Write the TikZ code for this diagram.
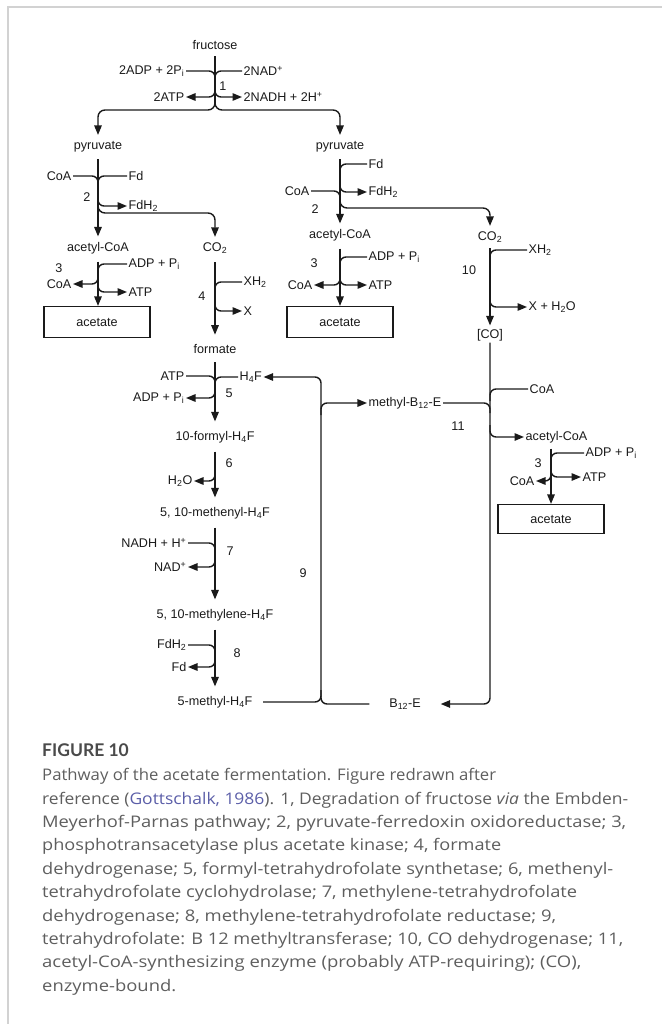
\documentclass[tikz,border=0pt]{standalone}
\usepackage{fontspec}
\usepackage{graphicx}
\setmainfont{Liberation Sans}
\newfontfamily\capfont{Open Sans}
\newfontfamily\capheadfont{Lato}
\usetikzlibrary{arrows.meta}

\definecolor{ink}{HTML}{1A1A1A}
\definecolor{framegray}{HTML}{D2D2D2}
\definecolor{captext}{HTML}{5E5E5E}
\definecolor{caphead}{HTML}{4A4A4A}
\definecolor{linkblue}{HTML}{5B5EA8}

% set one caption line to a given width (in pt) by horizontal scaling
\newsavebox\capbox
\newcommand\fitline[2]{\sbox\capbox{#2}%
  \pgfmathsetmacro\capratio{#1/\the\wd\capbox}%
  \scalebox{\capratio}[1]{\usebox\capbox}}

\begin{document}
\begin{tikzpicture}[x=1pt,y=-1pt,
  lbl/.style={font=\fontsize{12.6}{15}\selectfont, text=ink, inner sep=1.5pt},
  num/.style={lbl},
  rxn/.style={draw=ink, line width=1.4pt, rounded corners=6pt},
  arr/.style={rxn, -{Triangle[length=9.5pt,width=7.5pt]}},
  chain/.style={arr, shorten <=7pt, shorten >=8pt},
  boxn/.style={lbl, draw=ink, line width=1.2pt, minimum width=106pt, minimum height=31pt},
  captxt/.style={anchor=west, inner sep=0pt, text=captext, font=\capfont\fontsize{16}{20}\selectfont},
]
\useasboundingbox (0,0) rectangle (662,1024);

% frame of the figure panel
\draw[framegray, line width=2pt] (8,1024) -- (8,7) -- (662,7);

% ---------- step 1: fructose -> 2 pyruvate ----------
\node[lbl] (fru) at (215,45) {fructose};
\node[lbl,anchor=east] (adp1) at (186,71) {2ADP + 2P\textsubscript{i}};
\node[lbl,anchor=west] (nad1) at (242,71) {2NAD\textsuperscript{+}};
\node[lbl,anchor=east] (atp1) at (186,97) {2ATP};
\node[lbl,anchor=west] (nadh1) at (242,97) {2NADH + 2H\textsuperscript{+}};
\node[num] (n1) at (223,86) {1};
\node[lbl] (pyrL) at (98,147) {pyruvate};
\node[lbl] (pyrR) at (340,147) {pyruvate};

\draw[rxn, shorten <=5pt] (fru.south) -- (215,104);
\draw[arr] (adp1.east) -| (215,86) |- (atp1.east);
\draw[arr] (nad1.west) -| (215,86) |- (nadh1.west);
\draw[arr, shorten >=5pt, rounded corners=7pt] (215,100) |- (98,110) -- (pyrL.north);
\draw[arr, shorten >=5pt, rounded corners=7pt] (215,100) |- (340,110) -- (pyrR.north);

% ---------- left branch: pyruvate -> acetyl-CoA + CO2 ----------
\node[lbl] (acL) at (98,248) {acetyl-CoA};
\node[lbl] (co2L) at (215,248) {CO\textsubscript{2}};
\node[lbl,anchor=east] (coa2L) at (73,176) {CoA};
\node[lbl,anchor=west] (fd2L) at (127,176) {Fd};
\node[lbl,anchor=west] (fdh2L) at (127,206) {FdH\textsubscript{2}};
\node[num] at (87,197) {2};
\draw[arr, shorten <=5pt, shorten >=4pt] (pyrL) -- (acL);
\draw[rxn] (coa2L.east) -| (98,186);
\draw[rxn] (fd2L.west) -| (98,186);
\draw[arr] (98,190) |- (fdh2L.west);
\draw[arr, shorten >=4pt, rounded corners=7pt] (98,200) |- (215,213) -- (co2L.north);

% acetyl-CoA -> acetate (left)
\node[lbl,anchor=west] (adp3L) at (127,264) {ADP + P\textsubscript{i}};
\node[lbl,anchor=east] (coa3L) at (73,284) {CoA};
\node[lbl,anchor=west] (atp3L) at (127,292) {ATP};
\node[num] at (59,268) {3};
\node[boxn] (boxL) at (97,322) {acetate};
\draw[arr, shorten <=6pt] (acL.south) -- (acL.south |- boxL.north);
\draw[rxn] (adp3L.west) -| (98,274);
\draw[arr] (98,274) |- (coa3L.east);
\draw[arr] (98,279) |- (atp3L.west);

% CO2 -> formate
\node[lbl] (form) at (215,349) {formate};
\node[lbl,anchor=west] (xh4) at (242,282) {XH\textsubscript{2}};
\node[lbl,anchor=west] (x4) at (242,311) {X};
\node[num] at (202,296) {4};
\draw[chain] (co2L) -- (form);
\draw[rxn] (xh4.west) -| (215,294);
\draw[arr] (215,297) |- (x4.west);

% ---------- right branch: pyruvate -> acetyl-CoA + CO2 ----------
\node[lbl] (acR) at (340,235) {acetyl-CoA};
\node[lbl] (co2R) at (490,237) {CO\textsubscript{2}};
\node[lbl,anchor=west] (fd2R) at (367,164) {Fd};
\node[lbl,anchor=east] (coa2R) at (311,191) {CoA};
\node[lbl,anchor=west] (fdh2R) at (367,192) {FdH\textsubscript{2}};
\node[num] at (315,209) {2};
\draw[arr, shorten <=5pt, shorten >=4pt] (pyrR) -- (acR);
\draw[rxn] (fd2R.west) -| (340,176);
\draw[arr] (340,180) |- (fdh2R.west);
\draw[rxn] (coa2R.east) -| (340,200);
\draw[arr, shorten >=4pt, rounded corners=7pt] (340,199) |- (490,208) -- (co2R.north);

% acetyl-CoA -> acetate (right)
\node[lbl,anchor=west] (adp3R) at (367,257) {ADP + P\textsubscript{i}};
\node[lbl,anchor=east] (coa3R) at (314,285) {CoA};
\node[lbl,anchor=west] (atp3R) at (367,285) {ATP};
\node[num] at (314,263) {3};
\node[boxn] (boxR) at (340,322) {acetate};
\draw[arr, shorten <=6pt] (acR.south) -- (acR.south |- boxR.north);
\draw[rxn] (adp3R.west) -| (340,268);
\draw[arr] (340,272) |- (coa3R.east);
\draw[arr] (340,272) |- (atp3R.west);

% CO2 -> [CO]
\node[lbl] (co) at (490,335) {[CO]};
\node[lbl,anchor=west] (xh10) at (527,250) {XH\textsubscript{2}};
\node[lbl,anchor=west] (xh2o) at (527,307) {X + H\textsubscript{2}O};
\node[num] at (469,270) {10};
\draw[arr, shorten <=4pt, shorten >=2pt] (co2R) -- (co);
\draw[rxn] (xh10.west) -| (490,262);
\draw[arr] (490,295) |- (xh2o.west);

% ---------- acetyl-CoA synthesis (11) ----------
\node[lbl,anchor=west] (coa11) at (528,389) {CoA};
\node[lbl] (mb12) at (405,403) {methyl-B\textsubscript{12}-E};
\node[lbl,anchor=west] (ac11) at (524,437) {acetyl-CoA};
\node[num] at (458,426) {11};
\node[lbl,minimum width=71pt] (b12) at (405,704) {B\textsubscript{12}-E};
\draw[arr] (co) |- (b12.east);
\draw[rxn] (coa11.west) -| (490,401);
\draw[rxn] (mb12.east) -| (490,413);
\draw[arr] (490,425) |- (ac11.west);

% acetyl-CoA -> acetate (bottom right)
\node[lbl,anchor=west] (adp3B) at (584,453) {ADP + P\textsubscript{i}};
\node[lbl,anchor=east] (coa3B) at (536,481) {CoA};
\node[lbl,anchor=west] (atp3B) at (581,477) {ATP};
\node[num] at (538,463) {3};
\node[boxn,minimum height=29pt] (boxB) at (551,519) {acetate};
\draw[arr, shorten <=4pt] (ac11.south -| boxB.north) -- (boxB.north);
\draw[rxn] (adp3B.west) -| (551,463);
\draw[arr] (551,470) |- (coa3B.east);
\draw[arr] (551,467) |- (atp3B.west);

% ---------- formate -> 5-methyl-H4F ----------
\node[lbl,anchor=east] (atp5) at (186,376) {ATP};
\node[lbl,anchor=west] (h4f) at (238,377) {H\textsubscript{4}F};
\node[lbl,anchor=east] (adp5) at (186,398) {ADP + P\textsubscript{i}};
\node[num] at (229,393) {5};
\node[lbl] (fH4F) at (215,437) {10-formyl-H\textsubscript{4}F};
\draw[chain] (form) -- (fH4F);
\draw[rxn] (atp5.east) -| (215,388);
\draw[rxn] (h4f.west) -| (215,388);
\draw[arr] (215,386) |- (adp5.east);

\node[lbl,anchor=east] (h2o6) at (194,481) {H\textsubscript{2}O};
\node[num] at (229,463) {6};
\node[lbl] (meH4F) at (215,513) {5, 10-methenyl-H\textsubscript{4}F};
\draw[chain] (fH4F) -- (meH4F);
\draw[arr] (215,471) |- (h2o6.east);

\node[lbl,anchor=east] (nadh7) at (188,543) {NADH + H\textsuperscript{+}};
\node[lbl,anchor=east] (nad7) at (188,567) {NAD\textsuperscript{+}};
\node[num] at (230,551) {7};
\node[lbl] (mlH4F) at (215,615) {5, 10-methylene-H\textsubscript{4}F};
\draw[chain] (meH4F) -- (mlH4F);
\draw[rxn] (nadh7.east) -| (215,556);
\draw[arr] (215,555) |- (nad7.east);

\node[lbl,anchor=east] (fdh8) at (188,645) {FdH\textsubscript{2}};
\node[lbl,anchor=east] (fd8) at (188,667) {Fd};
\node[num] at (237,653) {8};
\node[lbl,minimum width=96pt] (m5) at (215,702) {5-methyl-H\textsubscript{4}F};
\draw[chain] (mlH4F) -- (m5);
\draw[rxn] (fdh8.east) -| (215,656);
\draw[arr] (215,657) |- (fd8.east);

% ---------- methyl transfer (9) ----------
\node[num] at (303,573) {9};
\draw[arr] (m5.east) -| (321,395) |- (h4f.east);
\draw[rxn] (b12.west) -| (321,690);
\draw[arr] (321,415) |- (mb12.west);

% ---------- caption ----------
\node[captxt, text=caphead, font=\capheadfont\bfseries\fontsize{17.5}{20}\selectfont] (fig) at (42,750) {FIGURE 10};
\node[captxt] (c1) at (42,776.5) {\fitline{454}{Pathway of the acetate fermentation. Figure redrawn after}};
\node[captxt] (c2) at (42,799.9) {\fitline{586}{reference ({\color{linkblue}Gottschalk, 1986}). 1, Degradation of fructose \textit{via} the Embden-}};
\node[captxt] (c3) at (42,823.3) {\fitline{584}{Meyerhof-Parnas pathway; 2, pyruvate-ferredoxin oxidoreductase; 3,}};
\node[captxt] (c4) at (42,846.7) {\fitline{459}{phosphotransacetylase plus acetate kinase; 4, formate}};
\node[captxt] (c5) at (42,870.1) {\fitline{571}{dehydrogenase; 5, formyl-tetrahydrofolate synthetase; 6, methenyl-}};
\node[captxt] (c6) at (42,893.5) {\fitline{535}{tetrahydrofolate cyclohydrolase; 7, methylene-tetrahydrofolate}};
\node[captxt] (c7) at (42,916.9) {\fitline{514}{dehydrogenase; 8, methylene-tetrahydrofolate reductase; 9,}};
\node[captxt] (c8) at (42,940.3) {\fitline{581}{tetrahydrofolate: B 12 methyltransferase; 10, CO dehydrogenase; 11,}};
\node[captxt] (c9) at (42,963.7) {\fitline{539}{acetyl-CoA-synthesizing enzyme (probably ATP-requiring); (CO),}};
\node[captxt] (c10) at (42,987.1) {\fitline{134}{enzyme-bound.}};
\end{tikzpicture}
\end{document}
